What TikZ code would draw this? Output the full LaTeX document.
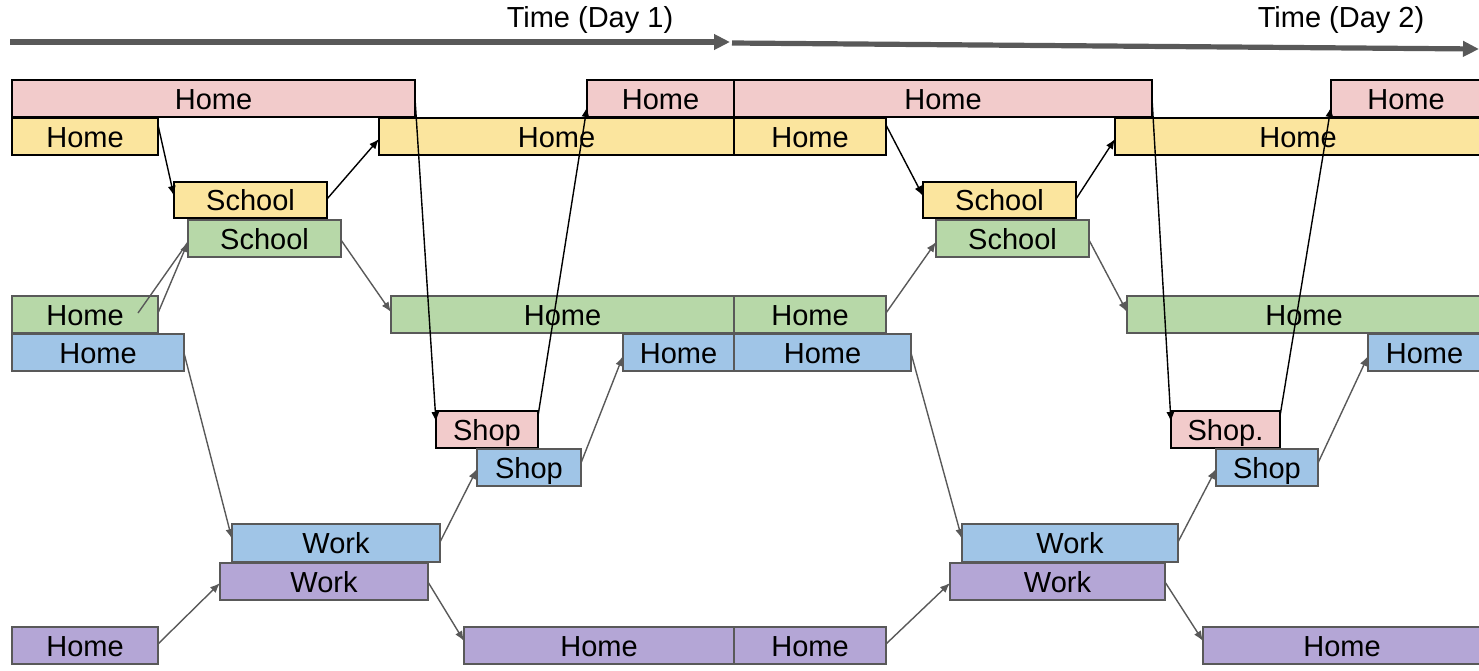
\documentclass[tikz,border=0pt]{standalone}
\usepackage{fontspec}
\setmainfont{Liberation Sans}
\usetikzlibrary{arrows.meta,calc}

\definecolor{pinkf}{HTML}{F2CBCB}
\definecolor{yelf}{HTML}{FBE59E}
\definecolor{grnf}{HTML}{B7D8A8}
\definecolor{bluf}{HTML}{A0C5E7}
\definecolor{purf}{HTML}{B4A6D6}
\definecolor{edgegray}{HTML}{595959}

\tikzset{
  box/.style={rectangle, inner sep=0pt, outer sep=0pt, line width=0.85pt,
    font=\fontsize{14.5}{16}\selectfont, text height=1.06em, text depth=0pt},
  pinkbox/.style={box, draw=black, fill=pinkf},
  yelbox/.style={box, draw=black, fill=yelf},
  grnbox/.style={box, draw=edgegray, fill=grnf},
  blubox/.style={box, draw=edgegray, fill=bluf},
  purbox/.style={box, draw=edgegray, fill=purf},
  blk/.style={line width=0.7pt, draw=black, -{Latex[length=5pt,width=4pt]}},
  gry/.style={line width=0.7pt, draw=edgegray, -{Latex[length=5pt,width=4pt]}},
  gryplain/.style={line width=0.7pt, draw=edgegray},
  timeline/.style={line width=2.6pt, draw=edgegray, -{Triangle[length=8pt,width=7.5pt]}},
  timelabel/.style={inner sep=0pt, font=\fontsize{14.5}{16}\selectfont, text height=0.716em, text depth=0pt},
}

% \bx{name}{style}{x1}{y1}{x2}{y2}{text}
\newcommand\bx[7]{\node[#2, minimum width={(#5-#3)*0.5pt}, minimum height={(#6-#4)*0.5pt}] (#1) at ({(#3+#5)/2},{(#4+#6)/2}) {#7};}

\begin{document}
\begin{tikzpicture}[x=0.5pt,y=-0.5pt]
\useasboundingbox (0,0) rectangle (1479,670);

% time axis
\coordinate (a1s) at (10,42);
\coordinate (a1e) at (730,42);
\coordinate (a2s) at (732,43);
\coordinate (a2e) at (1479,49);
\draw[timeline] (a1s) -- (a1e);
\draw[timeline] (a2s) -- (a2e);
\node[timelabel] (t1) at (590,20.5) {Time (Day 1)};
\node[timelabel] (t2) at (1341,20.5) {Time (Day 2)};

% pink track
\bx{ph1}{pinkbox}{12}{80}{415}{117}{Home}
\bx{ph2}{pinkbox}{587}{80}{734}{117}{Home}
\bx{ph3}{pinkbox}{734}{80}{1152}{117}{Home}
\bx{ph4}{pinkbox}{1331}{80}{1481}{117}{Home}
\bx{pk1}{pinkbox}{436}{411}{538}{448}{Shop}
\bx{pk2}{pinkbox}{1171}{411}{1280}{448}{Shop.}

% yellow track
\bx{yh1}{yelbox}{12}{118}{158}{155}{Home}
\bx{yh2}{yelbox}{379}{118}{734}{155}{Home}
\bx{yh3}{yelbox}{734}{118}{886}{155}{Home}
\bx{yh4}{yelbox}{1115}{118}{1481}{155}{Home}
\bx{ys1}{yelbox}{174}{182}{327}{218}{School}
\bx{ys2}{yelbox}{923}{182}{1076}{218}{School}

% green track
\bx{gs1}{grnbox}{188}{220}{341}{257}{School}
\bx{gs2}{grnbox}{936}{220}{1089}{257}{School}
\bx{gh1}{grnbox}{12}{296}{158}{333}{Home}
\bx{gh2}{grnbox}{391}{296}{734}{333}{Home}
\bx{gh3}{grnbox}{734}{296}{886}{333}{Home}
\bx{gh4}{grnbox}{1127}{296}{1481}{333}{Home}

% blue track
\bx{bh1}{blubox}{12}{334}{184}{371}{Home}
\bx{bh2}{blubox}{623}{334}{734}{371}{Home}
\bx{bh3}{blubox}{734}{334}{911}{371}{Home}
\bx{bh4}{blubox}{1368}{334}{1481}{371}{Home}
\bx{bs1}{blubox}{477}{449}{581}{486}{Shop}
\bx{bs2}{blubox}{1216}{449}{1318}{486}{Shop}
\bx{bw1}{blubox}{232}{524}{440}{562}{Work}
\bx{bw2}{blubox}{962}{524}{1178}{562}{Work}

% purple track
\bx{uw1}{purbox}{220}{563}{428}{600}{Work}
\bx{uw2}{purbox}{950}{563}{1165}{600}{Work}
\bx{uh1}{purbox}{12}{627}{158}{664}{Home}
\bx{uh2}{purbox}{464}{627}{734}{664}{Home}
\bx{uh3}{purbox}{734}{627}{886}{664}{Home}
\bx{uh4}{purbox}{1203}{627}{1481}{664}{Home}

% pink and yellow trips
\draw[blk] ($(yh1.north east)+(0,7)$) -- ($(ys1.north west)+(0,14)$);
\draw[blk] ($(ys1.north east)+(0,17)$) -- ($(yh2.north west)+(0,21)$);
\draw[blk] (ph1.east) -- ($(pk1.north west)+(0,11)$);
\draw[blk] ($(pk1.north east)+(0,5)$) -- ($(ph2.north west)+(0,27)$);
\draw[blk] ($(yh3.north east)+(0,7)$) -- ($(ys2.north west)+(0,14)$);
\draw[blk] ($(ys2.north east)+(0,17)$) -- ($(yh4.north west)+(0,21)$);
\draw[blk] (ph3.east) -- ($(pk2.north west)+(0,11)$);
\draw[blk] ($(pk2.north east)+(0,5)$) -- ($(ph4.north west)+(0,27)$);

% green trips
\draw[gryplain] ($(gh1.north west)+(126,17)$) -- ($(gs1.north west)+(0,22)$);
\draw[gry] ($(gh1.north east)+(0,17)$) -- ($(gs1.north west)+(0,22)$);
\draw[gry] ($(gs1.north east)+(0,20)$) -- ($(gh2.north west)+(0,16)$);
\draw[gry] ($(gh3.north east)+(0,17)$) -- ($(gs2.north west)+(0,22)$);
\draw[gry] ($(gs2.north east)+(0,20)$) -- ($(gh4.north west)+(0,16)$);

% blue trips
\draw[gry] ($(bh1.north east)+(0,19)$) -- ($(bw1.north west)+(0,15)$);
\draw[gry] ($(bw1.north east)+(0,18)$) -- ($(bs1.north west)+(0,20)$);
\draw[gry] ($(bs1.north east)+(0,14)$) -- ($(bh2.north west)+(0,22)$);
\draw[gry] ($(bh3.north east)+(0,19)$) -- ($(bw2.north west)+(0,15)$);
\draw[gry] ($(bw2.north east)+(0,18)$) -- ($(bs2.north west)+(0,20)$);
\draw[gry] ($(bs2.north east)+(0,14)$) -- ($(bh4.north west)+(0,22)$);

% purple trips
\draw[gry] ($(uh1.north east)+(0,17)$) -- ($(uw1.north west)+(0,20)$);
\draw[gry] ($(uw1.north east)+(0,19)$) -- ($(uh2.north west)+(0,14)$);
\draw[gry] ($(uh3.north east)+(0,17)$) -- ($(uw2.north west)+(0,20)$);
\draw[gry] ($(uw2.north east)+(0,19)$) -- ($(uh4.north west)+(0,14)$);
\end{tikzpicture}
\end{document}
